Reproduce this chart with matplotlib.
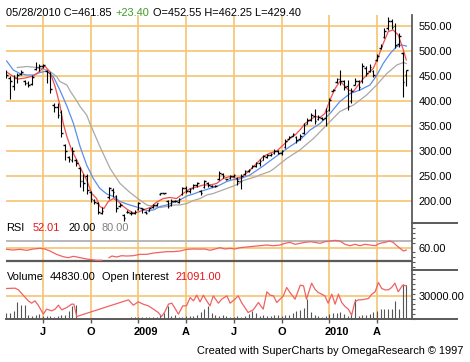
import numpy as np
import matplotlib
matplotlib.use("Agg")
import matplotlib.pyplot as plt
from matplotlib.lines import Line2D
from matplotlib.ticker import MultipleLocator, NullFormatter
from matplotlib.transforms import ScaledTranslation

plt.rcParams['font.family'] = ['Liberation Sans', 'DejaVu Sans']

nan = np.nan

# weekly bars: bar 0 = mid April 2008 ... bar 109 = 05/28/2010 (bar 27 missing)
high = [462, 450, 452, 456, 462, 442, 440, 452, 478, 474,
        474, 462, 458, 396, 396, 382, 315, 290, 309, 284,
        269, 254, 254, 220, 204, 199, 189, nan, 229, 226,
        212, 196, 174, 182, 180, 182, 199, 187, 180, 187,
        194, 197, 217, 217, 202, 204, 202, 207, 229, 230,
        227, 235, 238, 222, 242, 238, 232, 232, 260, 257,
        245, 252, 255, 248, 254, 262, 265, 272, 279, 284,
        292, 294, 297, 304, 302, 302, 324, 330, 337, 330,
        335, 357, 367, 377, 384, 372, 368, 387, 407, 424,
        447, 462, 442, 442, 427, 446, 442, 477, 470, 475,
        462, 494, 514, 546, 568, 564, 556, 536, 498, 462.25]
low = [446, 404, 422, 436, 452, 432, 428, 432, 462, 460,
       466, 436, 416, 378, 366, 328, 282, 279, 279, 270,
       229, 220, 214, 199, 194, 174, 174, nan, 204, 208,
       179, 189, 160, 176, 172, 174, 182, 177, 174, 180,
       187, 190, 213, 214, 186, 190, 198, 197, 212, 217,
       217, 225, 228, 212, 226, 228, 228, 228, 242, 247,
       242, 245, 248, 232, 224, 252, 258, 266, 269, 270,
       282, 286, 290, 294, 295, 292, 307, 324, 330, 317,
       322, 334, 354, 360, 354, 362, 362, 350, 380, 420,
       437, 432, 422, 382, 397, 432, 422, 437, 450, 459,
       449, 480, 504, 526, 542, 544, 506, 508, 409, 429.40]
opn = [448, 446, 430, 446, 454, 440, 436, 434, 464, 468,
       470, 460, 456, 392, 388, 378, 312, 288, 282, 282,
       266, 240, 250, 218, 202, 196, 176, nan, 208, 222,
       210, 190, 172, 178, 176, 176, 184, 186, 178, 180,
       188, 192, 214, 216, 200, 192, 200, 198, 214, 226,
       220, 226, 232, 220, 228, 236, 230, 230, 244, 254,
       244, 246, 250, 246, 240, 254, 260, 266, 270, 276,
       282, 288, 292, 296, 300, 296, 308, 324, 330, 328,
       324, 336, 354, 362, 370, 364, 366, 366, 382, 420,
       438, 444, 440, 430, 400, 432, 440, 440, 466, 460,
       460, 482, 506, 528, 546, 560, 550, 514, 496, 452.55]
close = [452, 440, 446, 452, 458, 436, 432, 448, 468, 470,
         472, 458, 424, 388, 372, 336, 300, 284, 300, 276,
         240, 236, 222, 204, 198, 178, 180, nan, 226, 218,
         186, 192, 166, 178, 176, 178, 196, 184, 176, 186,
         192, 196, 216, 216, 190, 200, 200, 204, 226, 220,
         224, 232, 236, 216, 240, 232, 230, 230, 256, 250,
         244, 250, 252, 240, 250, 260, 262, 270, 276, 280,
         290, 292, 294, 300, 296, 300, 320, 328, 334, 322,
         330, 352, 362, 372, 360, 368, 364, 380, 402, 422,
         444, 440, 428, 390, 420, 440, 428, 470, 456, 468,
         452, 490, 510, 540, 560, 548, 512, 530, 438.45, 461.85]

volume = [7050, 7930, 10100, 22000, 17600, 17600, 4400, 3500, 4400, 5700,
          3500, 3500, 3500, 2600, 3500, 4400, 4400, 10100, 16700, 17600,
          nan, nan, nan, nan, nan, nan, nan, nan, nan, nan,
          nan, nan, nan, nan, 1500, 1500, 1500, 1500, 1500, 1500,
          1500, 1500, 4400, 7050, 15900, 3500, 4400, 2600, 2600, 3500,
          3500, 3500, 4400, 8800, 12300, 16700, 7050, 4400, 3500, 4400,
          3500, 2600, 2600, 3500, 2600, 3500, 5700, 10100, 7930, 3500,
          4400, 3500, 3500, 4400, 4400, 3500, 4400, 4400, 7930, 10100,
          11500, 14500, 25600, 8800, 4400, 3500, 2600, 3500, 5700, 7050,
          7930, 8800, 5700, 3500, 7930, 26400, 3500, 4400, 4400, 5700,
          8800, 10100, 12300, 13200, 13200, 13200, 23400, 12300, 45400, 44830]

# moving averages (bar position, price)
red_x = [0.1, 1.9, 3.3, 5.1, 7.4, 9.2, 10.5, 11.9, 13.3, 14.6,
         15.5, 16.5, 17.8, 19.2, 20.5, 21.9, 23.3, 24.6, 25.5, 26.6,
         27.8, 29.2, 30.5, 31.9, 33.2, 34.6, 36.0, 37.3, 39.2, 41.0,
         42.8, 44.6, 46.4, 48.2, 50.1, 51.9, 53.7, 55.5, 57.3, 59.1,
         61.0, 62.8, 64.6, 66.4, 68.2, 70.0, 71.9, 73.7, 75.9, 77.3,
         78.7, 80.0, 81.4, 82.8, 84.1, 85.5, 86.8, 88.2, 89.6, 90.9,
         92.0, 93.2, 94.6, 95.9, 97.3, 98.6, 100.0, 101.4, 102.7, 104.1,
         105.4, 106.8, 108.2, 109.0]
red_v = [458, 449, 444, 446, 450, 460, 470, 458, 429, 392,
         356, 329, 302, 282, 262, 242, 215, 205, 189, 185,
         199, 205, 199, 189, 182, 176, 178, 182, 187, 198,
         205, 207, 205, 215, 225, 228, 232, 232, 235, 245,
         249, 245, 250, 262, 275, 289, 296, 300, 315, 325,
         332, 342, 355, 362, 369, 367, 375, 402, 425, 439,
         432, 422, 419, 432, 445, 455, 465, 489, 515, 539,
         542, 532, 502, 482]
blue_x = [0.1, 1.9, 3.7, 5.6, 7.4, 9.2, 11.0, 12.8, 14.6, 16.5,
          18.3, 20.1, 21.9, 23.7, 25.5, 27.4, 29.2, 31.0, 32.8, 34.6,
          36.4, 38.3, 40.1, 41.9, 43.7, 45.5, 47.3, 49.2, 51.0, 52.8,
          54.6, 56.4, 58.2, 60.1, 61.9, 63.2, 66.4, 70.0, 71.8, 74.6,
          77.3, 80.0, 82.8, 85.5, 88.2, 90.9, 93.7, 96.4, 99.1, 101.0,
          102.7, 104.6, 106.4, 107.7, 109.0]
blue_v = [480, 462, 455, 452, 452, 457, 460, 449, 422, 390,
          355, 309, 272, 245, 225, 214, 209, 199, 194, 190,
          186, 181, 182, 189, 192, 197, 202, 210, 214, 219,
          223, 227, 232, 239, 243, 243, 252, 270, 280, 295,
          309, 322, 342, 355, 375, 399, 415, 422, 432, 452,
          475, 495, 509, 512, 510]
gray_x = [3.0, 5.6, 8.3, 11.0, 11.9, 13.7, 14.6, 16.5, 17.4, 19.2,
          20.1, 21.9, 22.8, 25.5, 28.3, 31.0, 33.7, 36.0, 38.3, 40.1,
          41.9, 43.7, 45.5, 47.3, 49.2, 51.0, 52.8, 54.6, 56.4, 58.2,
          60.1, 61.9, 63.2, 64.6, 68.2, 69.1, 71.8, 72.8, 76.4, 80.0,
          83.7, 87.3, 90.9, 94.6, 98.2, 100.9, 103.7, 106.4, 108.2, 109.0]
gray_v = [467, 469, 467, 462, 459, 449, 439, 432, 420, 400,
          389, 372, 355, 309, 265, 235, 217, 204, 192, 189,
          187, 189, 192, 192, 195, 201, 205, 212, 215, 220,
          225, 230, 234, 241, 249, 252, 259, 264, 285, 302,
          325, 352, 379, 392, 412, 432, 455, 472, 477, 475]

rsi_x = [0.1, 1.9, 3.7, 5.6, 7.4, 9.2, 10.5, 11.9, 13.7, 15.5,
         16.9, 18.3, 20.1, 21.9, 23.3, 24.6, 26.0, 27.0, 28.0, 28.8,
         30.1, 31.4, 32.8, 34.6, 36.4, 38.3, 40.1, 41.9, 43.7, 45.5,
         47.3, 49.2, 51.0, 52.8, 54.1, 55.5, 56.9, 58.2, 59.6, 61.0,
         62.3, 63.7, 65.5, 67.3, 69.1, 70.9, 72.8, 74.6, 75.9, 77.3,
         78.7, 80.0, 81.4, 82.8, 84.1, 85.5, 86.8, 88.2, 89.6, 90.9,
         92.3, 93.7, 95.0, 96.4, 97.7, 99.1, 100.5, 101.8, 103.2, 104.5,
         105.4, 106.4, 107.3, 108.2, 109.0]
rsi_v = [54.4, 52.3, 54.4, 51.3, 55.4, 57.4, 55.4, 49.2, 39.0, 31.7,
         28.7, 32.9, 28.7, 24.6, 22.5, 20.6, 20.6, nan, 28.7, 33.8,
         30.8, 34.8, 33.8, 34.8, 39.0, 39.0, 43.0, 45.1, 47.2, 47.2,
         49.2, 54.4, 55.4, 55.0, 55.4, 51.3, 55.4, 59.4, 55.4, 57.4,
         55.4, 59.4, 61.5, 63.6, 65.6, 67.7, 65.6, 67.7, 72.8, 75.9,
         69.8, 72.8, 75.9, 77.9, 75.9, 72.8, 77.9, 80.0, 82.0, 80.0,
         69.8, 65.6, 69.8, 65.6, 69.8, 67.7, 65.6, 72.8, 75.9, 80.0,
         75.9, 65.6, 57.4, 49.2, 52.01]

oi_x = [0.0, 2.4, 3.3, 4.6, 6.0, 6.9, 7.8, 8.7, 10.1, 11.0,
        12.4, 13.3, 14.2, 15.1, 16.5, 17.8, 18.4, 19.2, 33.3, 34.6,
        36.0, 37.3, 38.7, 40.1, 41.4, 42.3, 43.2, 44.2, 45.1, 46.0,
        46.9, 48.1, 49.1, 50.1, 51.0, 51.9, 52.8, 53.7, 54.6, 55.5,
        56.4, 57.8, 58.7, 60.1, 61.0, 62.3, 63.2, 64.1, 65.9, 67.3,
        68.7, 70.0, 71.0, 71.9, 72.8, 73.7, 74.6, 75.5, 76.4, 77.3,
        78.7, 80.1, 81.0, 81.8, 83.2, 84.1, 85.0, 85.9, 86.8, 87.7,
        88.7, 89.6, 90.5, 91.4, 92.3, 93.2, 94.1, 95.0, 95.9, 96.8,
        97.7, 98.7, 99.6, 100.5, 101.4, 102.3, 103.2, 104.1, 105.0, 105.9,
        106.8, 108.0, 109.0]
oi_v = [19350, 19565, 18490, 15050, 11395, 9890, 11395, 8600, 2795, 6020,
        4945, 6020, 8600, 5590, 7095, 9245, 9245, 1290, 12040, 8600,
        10750, 9245, 8170, 6020, 3870, 1290, 4300, 9245, 9890, 6450,
        2795, 8170, 8170, 13545, 11395, 15050, 10750, 15050, 11395, 8170,
        14620, 9890, 12470, 14620, 9890, 12470, 14620, 10320, 3870, 5590,
        10320, 6020, 17200, 15050, 14620, 10320, 12470, 14620, 19995, 16770,
        12470, 21500, 21070, 12470, 22790, 18920, 16770, 15695, 14620, 9890,
        15695, 9245, 15695, 10320, 7740, 6020, 2150, 10750, 12040, 12040,
        12470, 12900, 15695, 17200, 23220, 19350, 18490, 18490, 19995, 22790,
        17200, 21500, 21091]

quarter_pos = [10, 23, 36, 49, 62, 75, 88, 101]
quarter_lab = ['J', 'O', '2009', 'A', 'J', 'O', '2010', 'A']
price_ticks = [200, 250, 300, 350, 400, 450, 500, 550]

ORANGE = '#F5C56F'
AXC = '#5A5A5A'
FS = 7.9

W, H = 470, 362
fig = plt.figure(figsize=(W / 100, H / 100), dpi=100)


def px_box(x0, y0, x1, y1):
    return [x0 / W, 1 - y1 / H, (x1 - x0) / W, (y1 - y0) / H]


def style(ax):
    ax.set_xlim(-0.08, 110.55)
    for s in ('top', 'left', 'bottom'):
        ax.spines[s].set_visible(False)
    ax.spines['right'].set_color(AXC)
    ax.spines['right'].set_linewidth(1.3)
    ax.yaxis.tick_right()
    ax.tick_params(axis='x', which='both', bottom=False, labelbottom=False)
    ax.tick_params(axis='y', which='major', length=0, pad=4.5, labelsize=FS)
    ax.tick_params(axis='y', which='minor', length=2, width=0.8, color=AXC)
    for q in quarter_pos:
        ax.axvline(q, color=ORANGE, lw=1.2, zorder=0)


ax_p = fig.add_axes(px_box(6, 15, 412, 223))
ax_r = fig.add_axes(px_box(6, 223, 412, 270))
ax_v = fig.add_axes(px_box(6, 270, 412, 318.5))

# open interest shares the volume panel on its own scale
panel_h = 48.5
ax_o = ax_v.twinx()
ax_o.set_ylim(0, panel_h * 645)
for s in ax_o.spines.values():
    s.set_visible(False)
ax_o.tick_params(right=False, labelright=False, left=False, labelleft=False)

for ax in (ax_p, ax_r, ax_v):
    style(ax)
ax_o.set_xlim(ax_v.get_xlim())

# ---- price panel
ax_p.set_ylim(156, 572)
for v in price_ticks:
    ax_p.axhline(v, color=ORANGE, lw=1.2, zorder=0)
ax_p.set_yticks(price_ticks, [f'{v:.2f}' for v in price_ticks])

idx = np.arange(len(high))
h, l, o, c = (np.array(a, float) for a in (high, low, opn, close))
ok = ~np.isnan(h)
ax_p.plot(gray_x, gray_v, color='#A9A9A9', lw=0.9, zorder=2)
ax_p.plot(blue_x, blue_v, color='#5B8DEF', lw=0.9, zorder=2)
ax_p.plot(red_x, red_v, color='#F05050', lw=0.9, zorder=2)
ax_p.vlines(idx[ok], l[ok], h[ok], color='black', lw=0.8, zorder=3)
ax_p.hlines(o[ok], idx[ok] - 0.45, idx[ok], color='black', lw=1.0, zorder=3)
ax_p.hlines(c[ok], idx[ok], idx[ok] + 0.45, color='black', lw=1.0, zorder=3)

# ---- RSI panel
ax_r.set_ylim(-9.2, 135.4)
ax_r.axhline(60, color=ORANGE, lw=1.2, zorder=0)
ax_r.axhline(80, color='#B8B8B8', lw=1.4, zorder=1)
ax_r.axhline(20, color='#5A5A5A', lw=1.6, zorder=1)
ax_r.plot(rsi_x, rsi_v, color='#F06262', lw=0.9, zorder=2)
ax_r.set_yticks([60], ['60.00'])
ax_r.yaxis.set_minor_locator(MultipleLocator(15))
ax_r.yaxis.set_minor_formatter(NullFormatter())

# ---- volume / open interest panel
ax_v.set_ylim(0, panel_h * 1322)
ax_v.axhline(30000, color=ORANGE, lw=1.2, zorder=0)
ax_v.vlines(idx, 0, volume, color='#555555', lw=0.8, zorder=2)
ax_v.set_yticks([30000], ['30000.00'])
ax_v.yaxis.set_minor_locator(MultipleLocator(6500))
ax_v.yaxis.set_minor_formatter(NullFormatter())
ax_o.plot(oi_x, oi_v, color='#F06262', lw=0.9)

ax_v.tick_params(axis='x', which='major', bottom=True, labelbottom=True,
                 length=3, width=1, color=AXC, pad=3, labelsize=FS)
ax_v.set_xticks(quarter_pos, quarter_lab, fontweight='bold')
shift = ScaledTranslation(7.5 / 100, 0, fig.dpi_scale_trans)
for lab in ax_v.get_xticklabels():
    if len(lab.get_text()) == 4:
        lab.set_transform(lab.get_transform() + shift)

# panel separators
for y, x0 in ((223, 412), (270, 412), (319, 6)):
    fig.add_artist(Line2D([x0 / W, 457 / W], [1 - y / H] * 2, transform=fig.transFigure,
                          color=AXC, lw=1.4))

# ---- header texts with coloured parts
renderer = fig.canvas.get_renderer()


def text_run(x, y, parts):
    for s, col, gap in parts:
        t = fig.text(x / W, 1 - y / H, s, color=col, fontsize=FS, va='baseline')
        x = t.get_window_extent(renderer).x1 + gap


text_run(6.5, 16, [('05/28/2010 C=461.85', 'black', 3.5), ('+23.40', '#3C9B28', 3.5),
                   ('O=452.55 H=462.25 L=429.40', 'black', 0)])
text_run(6.5, 231.5, [('RSI', 'black', 8), ('52.01', '#E8141C', 8),
                      ('20.00', 'black', 6.5), ('80.00', '#808080', 0)])
text_run(6.5, 280, [('Volume', 'black', 6.5), ('44830.00', 'black', 6),
                    ('Open Interest', 'black', 6.5), ('21091.00', '#E8141C', 0)])
fig.text(463 / W, 1 - 354.5 / H, 'Created with SuperCharts by OmegaResearch \u00a9 1997',
         fontsize=FS, ha='right', va='baseline')

fig.savefig('out.png', dpi=100)
